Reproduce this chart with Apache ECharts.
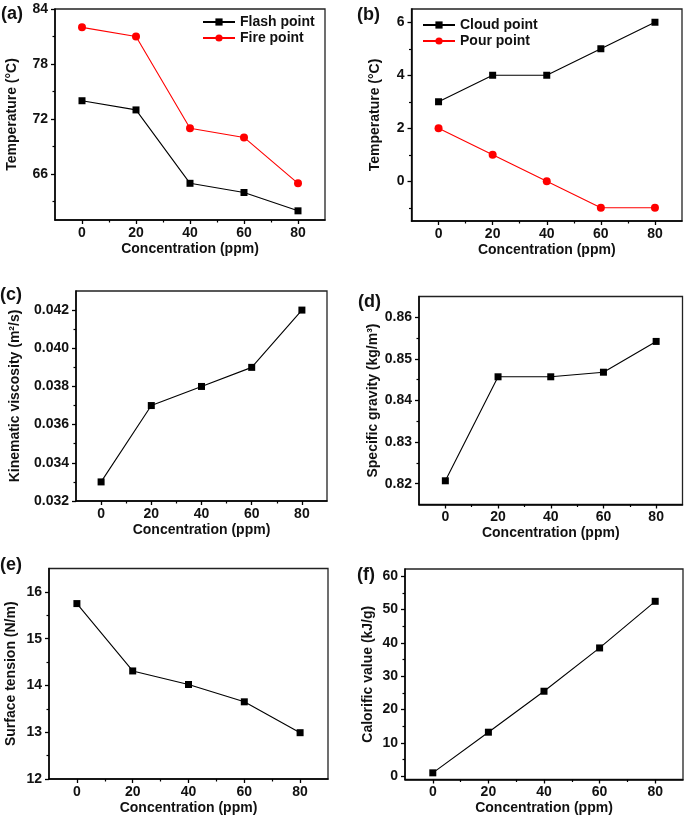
<!DOCTYPE html>
<html>
<head>
<meta charset="utf-8">
<script src="https://cdn.jsdelivr.net/npm/echarts@6/dist/echarts.min.js"></script>
<style>
html,body{margin:0;padding:0;background:#fff;}
#chart{width:685px;height:820px;}
</style>
</head>
<body>
<div id="chart"></div>
<script>
// ---- data ----
const concentration = [0, 20, 40, 60, 80];
const flashPoint = [74, 73, 65, 64, 62];
const firePoint = [82, 81, 71, 70, 65];
const cloudPoint = [3, 4, 4, 5, 6];
const pourPoint = [2, 1, 0, -1, -1];
const kinematicViscosity = [0.033, 0.037, 0.038, 0.039, 0.042];
const specificGravity = [0.8207, 0.8457, 0.8457, 0.8468, 0.8542];
const surfaceTension = [15.75, 14.31, 14.02, 13.65, 12.99];
const calorificValue = [1.0, 13.2, 25.5, 38.5, 52.5];

// ---- tick labels ----
const xTicks = [0, 20, 40, 60, 80];
const xMinor = [10, 30, 50, 70];
const aTicks = [66, 72, 78, 84];
const aMinor = [63, 69, 75, 81];
const bTicks = [0, 2, 4, 6];
const bMinor = [-1, 1, 3, 5];
const cTicks = [0.032, 0.034, 0.036, 0.038, 0.040, 0.042];
const cMinor = [0.033, 0.035, 0.037, 0.039, 0.041];
const dTicks = [0.82, 0.83, 0.84, 0.85, 0.86];
const dMinor = [0.825, 0.835, 0.845, 0.855];
const eTicks = [12, 13, 14, 15, 16];
const eMinor = [12.5, 13.5, 14.5, 15.5];
const fTicks = [0, 10, 20, 30, 40, 50, 60];
const fMinor = [5, 15, 25, 35, 45, 55];

const FONT = 'Liberation Sans, Arial, sans-serif';
const pairs = (ys) => concentration.map((x, i) => [x, ys[i]]);

const panels = [
  {grid: {left: 55, top: 9, width: 270, height: 211}, y: [61, 84], yt: aTicks, ym: aMinor, dec: 0,
   name: 'Temperature (°C)', gap: 36},
  {grid: {left: 411.5, top: 9, width: 270.5, height: 212}, y: [-1.5, 6.5], yt: bTicks, ym: bMinor, dec: 0,
   name: 'Temperature (°C)', gap: 29},
  {grid: {left: 76, top: 291, width: 251, height: 210}, y: [0.032, 0.043], yt: cTicks, ym: cMinor, dec: 3,
   name: 'Kinematic viscosity (m²/s)', gap: 54},
  {grid: {left: 419, top: 296.5, width: 263.5, height: 208}, y: [0.815, 0.865], yt: dTicks, ym: dMinor, dec: 2,
   name: 'Specific gravity (kg/m³)', gap: 39},
  {grid: {left: 49, top: 568.5, width: 279, height: 210.5}, y: [12, 16.5], yt: eTicks, ym: eMinor, dec: 0,
   name: 'Surface tension (N/m)', gap: 31},
  {grid: {left: 405, top: 569, width: 278, height: 210.5}, y: [-1, 62.2], yt: fTicks, ym: fMinor, dec: 0,
   name: 'Calorific value (kJ/g)', gap: 30}
];

const grids = [], xAxes = [], yAxes = [];
const axisLineStyle = {color: '#000', width: 1.5};
const labelStyle = {color: '#111', fontSize: 14, fontWeight: 'bold', fontFamily: FONT};

panels.forEach((p, i) => {
  grids.push(Object.assign({show: true, borderColor: '#222', borderWidth: 1.3, backgroundColor: 'transparent'}, p.grid));
  // main x axis
  xAxes.push({
    type: 'value', gridIndex: i, min: -10, max: 90, position: 'bottom',
    axisLine: {show: true, onZero: false, lineStyle: axisLineStyle},
    axisTick: {show: true, length: 4, lineStyle: {color: '#000', width: 1.3}, customValues: xTicks},
    axisLabel: Object.assign({show: true, margin: 6, customValues: xTicks}, labelStyle),
    splitLine: {show: false},
    name: 'Concentration (ppm)', nameLocation: 'middle', nameGap: 22,
    nameTextStyle: {color: '#111', fontSize: 14, fontWeight: 'bold', fontFamily: FONT}
  });
  // minor x ticks
  xAxes.push({
    type: 'value', gridIndex: i, min: -10, max: 90, position: 'bottom',
    axisLine: {show: false, onZero: false},
    axisTick: {show: true, length: 2.5, lineStyle: {color: '#000', width: 1.2}, customValues: xMinor},
    axisLabel: {show: false}, splitLine: {show: false}
  });
  // main y axis
  yAxes.push({
    type: 'value', gridIndex: i, min: p.y[0], max: p.y[1], position: 'left',
    axisLine: {show: true, onZero: false, lineStyle: axisLineStyle},
    axisTick: {show: true, length: 4, lineStyle: {color: '#000', width: 1.3}, customValues: p.yt},
    axisLabel: Object.assign({show: true, margin: 7, customValues: p.yt,
      formatter: (v) => Number(v).toFixed(p.dec)}, labelStyle),
    splitLine: {show: false},
    name: p.name, nameLocation: 'middle', nameGap: p.gap, nameRotate: 90,
    nameTextStyle: {color: '#111', fontSize: 14, fontWeight: 'bold', fontFamily: FONT}
  });
  // minor y ticks
  yAxes.push({
    type: 'value', gridIndex: i, min: p.y[0], max: p.y[1], position: 'left',
    axisLine: {show: false, onZero: false},
    axisTick: {show: true, length: 2.5, lineStyle: {color: '#000', width: 1.2}, customValues: p.ym},
    axisLabel: {show: false}, splitLine: {show: false}
  });
});

function lineSeries(name, gi, ys, color, symbol, size) {
  return {
    name: name, type: 'line', xAxisIndex: gi * 2, yAxisIndex: gi * 2,
    data: pairs(ys), symbol: symbol, symbolSize: size, showSymbol: true,
    lineStyle: {color: color, width: 1.1},
    itemStyle: {color: color, borderColor: color, borderWidth: 0},
    emphasis: {disabled: true}, animation: false, z: 3
  };
}

const series = [
  lineSeries('Flash point', 0, flashPoint, '#000', 'rect', 7),
  lineSeries('Fire point', 0, firePoint, '#ff0000', 'circle', 8),
  lineSeries('Cloud point', 1, cloudPoint, '#000', 'rect', 7),
  lineSeries('Pour point', 1, pourPoint, '#ff0000', 'circle', 8),
  lineSeries('Kinematic viscosity', 2, kinematicViscosity, '#000', 'rect', 7),
  lineSeries('Specific gravity', 3, specificGravity, '#000', 'rect', 7),
  lineSeries('Surface tension', 4, surfaceTension, '#000', 'rect', 7),
  lineSeries('Calorific value', 5, calorificValue, '#000', 'rect', 7)
];

const legendBase = {
  orient: 'vertical', itemWidth: 32, itemHeight: 9, itemGap: 2, selectedMode: false,
  textStyle: {color: '#111', fontSize: 14, fontWeight: 'bold', fontFamily: FONT, padding: [0, 0, 0, 0]},
  padding: 0
};

const panelLabels = [
  ['(a)', 1, 5], ['(b)', 357, 6], ['(c)', 0, 286], ['(d)', 358, 293], ['(e)', 0, 556], ['(f)', 357, 566]
];

const chart = echarts.init(document.getElementById('chart'), null, {renderer: 'canvas'});
chart.setOption({
  backgroundColor: '#fff',
  animation: false,
  grid: grids,
  xAxis: xAxes,
  yAxis: yAxes,
  legend: [
    Object.assign({data: ['Flash point', 'Fire point'], left: 202, top: 15}, legendBase),
    Object.assign({data: ['Cloud point', 'Pour point'], left: 422, top: 18}, legendBase)
  ],
  graphic: panelLabels.map(l => ({
    type: 'text', left: l[1], top: l[2],
    style: {text: l[0], fill: '#111', font: 'bold 18px ' + FONT}
  })),
  series: series
});
</script>
</body>
</html>
